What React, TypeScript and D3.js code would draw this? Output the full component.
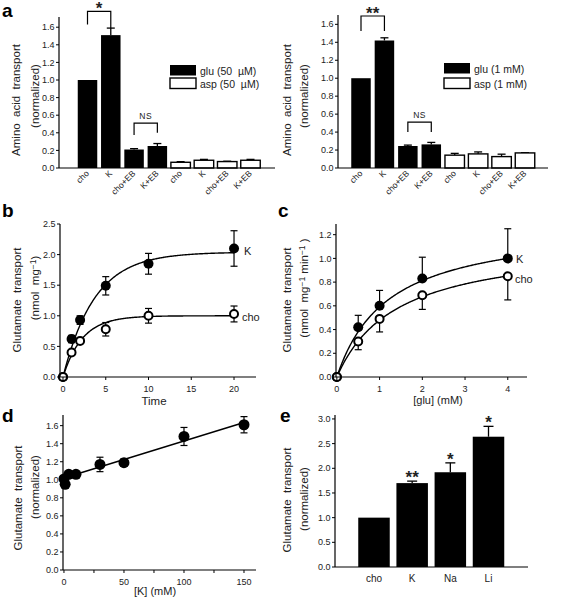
import React from "react";
import * as d3 from "d3";

const FONT = "'Liberation Sans', Arial, Helvetica, sans-serif";
const INK = "#000";
const TXT = "#222";

// ---------- Panel a ----------
const aCategories = ["cho", "K", "cho+EB", "K+EB", "cho", "K", "cho+EB", "K+EB"];
const aSubstrate = ["glu", "glu", "glu", "glu", "asp", "asp", "asp", "asp"];
const aLeftValues = [1.0, 1.51, 0.21, 0.25, 0.065, 0.088, 0.073, 0.088];
const aLeftErrors = [0, 0.08, 0.01, 0.028, 0.007, 0.01, 0.004, 0.01];
const aRightValues = [1.0, 1.42, 0.245, 0.263, 0.143, 0.157, 0.127, 0.168];
const aRightErrors = [0, 0.03, 0.01, 0.022, 0.02, 0.022, 0.027, 0.003];
const aLeftLegend = ["glu (50  µM)", "asp (50  µM)"];
const aRightLegend = ["glu (1 mM)", "asp (1 mM)"];
const aYTicks = [0, 0.2, 0.4, 0.6, 0.8, 1.0, 1.2, 1.4, 1.6];
const aLeftBrackets = [
  { from: 0, to: 1, top: 1.78, leftEnd: 1.63, rightEnd: 1.59, label: "*" },
  { from: 2, to: 3, top: 0.51, leftEnd: 0.375, rightEnd: 0.4, label: "NS" },
];
const aRightBrackets = [
  { from: 0, to: 1, top: 1.693, leftEnd: 1.526, rightEnd: 1.526, label: "**" },
  { from: 2, to: 3, top: 0.512, leftEnd: 0.4, rightEnd: 0.4, label: "NS" },
];

// ---------- Panel b ----------
const bTimes = [0, 1, 2, 5, 10, 20];
const bK = [0, 0.62, 0.93, 1.49, 1.85, 2.1];
const bKErr = [0.02, 0.06, 0.07, 0.15, 0.17, 0.29];
const bCho = [0, 0.4, 0.59, 0.78, 1.0, 1.03];
const bChoErr = [0.02, 0.03, 0.04, 0.11, 0.12, 0.13];
const bKFit = { plateau: 2.04, rate: 0.27 };
const bChoFit = { plateau: 1.0, rate: 0.44 };
const bXTicks = [0, 5, 10, 15, 20];
const bYTicks = [0, 0.5, 1.0, 1.5, 2.0, 2.5];

// ---------- Panel c ----------
const cConc = [0, 0.5, 1, 2, 4];
const cK = [0, 0.42, 0.6, 0.83, 1.0];
const cKErr = [0.01, 0.1, 0.13, 0.18, 0.25];
const cCho = [0, 0.3, 0.49, 0.69, 0.85];
const cChoErr = [0.01, 0.07, 0.11, 0.12, 0.2];
const cKFit = { vmax: 1.3, km: 1.2 };
const cChoFit = { vmax: 1.15, km: 1.4 };
const cXTicks = [0, 1, 2, 3, 4];
const cYTicks = [0, 0.2, 0.4, 0.6, 0.8, 1.0, 1.2];

// ---------- Panel d ----------
const dK = [0, 1, 4, 10, 30, 50, 100, 150];
const dVal = [1.01, 0.95, 1.06, 1.06, 1.17, 1.19, 1.48, 1.61];
const dErr = [0.03, 0.03, 0.03, 0.03, 0.08, 0.04, 0.1, 0.09];
const dFit = { intercept: 1.02, slope: 0.0041 };
const dXTicks = [0, 50, 100, 150];
const dXMinor = [25, 75, 125];
const dYTicks = [0, 0.2, 0.4, 0.6, 0.8, 1.0, 1.2, 1.4, 1.6];

// ---------- Panel e ----------
const eCats = ["cho", "K", "Na", "Li"];
const eVals = [1.0, 1.7, 1.92, 2.64];
const eErrs = [0, 0.04, 0.19, 0.21];
const eSig = ["", "**", "*", "*"];
const eYTicks = [0, 0.5, 1.0, 1.5, 2.0, 2.5, 3.0];

const f1 = (v: number) => v.toFixed(1);
const TITLE_FS = 11.5;

function YAxis({ scale, x, ticks, format = f1, fs = 9 }: any) {
  const [y0, y1] = scale.range();
  return (
    <g>
      <line x1={x} x2={x} y1={y0} y2={y1} stroke={INK} strokeWidth={1.2} />
      {ticks.map((t: number) => (
        <g key={t}>
          <line x1={x - 3} x2={x} y1={scale(t)} y2={scale(t)} stroke={INK} strokeWidth={1} />
          <text x={x - 4.5} y={scale(t)} dy="0.35em" textAnchor="end" fontSize={fs} fill={TXT}>
            {format(t)}
          </text>
        </g>
      ))}
    </g>
  );
}

function XAxis({ scale, y, x0, x1, ticks, minor = [], format = (v: number) => String(v), fs = 9 }: any) {
  return (
    <g>
      <line x1={x0} x2={x1} y1={y} y2={y} stroke={INK} strokeWidth={1.2} />
      {ticks.map((t: number) => (
        <g key={t}>
          <line x1={scale(t)} x2={scale(t)} y1={y} y2={y + 3} stroke={INK} strokeWidth={1} />
          <text x={scale(t)} y={y + 15} textAnchor="middle" fontSize={fs} fill={TXT}>
            {format(t)}
          </text>
        </g>
      ))}
      {minor.map((t: number) => (
        <line key={"m" + t} x1={scale(t)} x2={scale(t)} y1={y} y2={y + 3} stroke={INK} strokeWidth={1} />
      ))}
    </g>
  );
}

function VTitle({ x, y, children, fs = TITLE_FS }: any) {
  return (
    <text
      transform={`translate(${x},${y}) rotate(-90)`}
      textAnchor="middle"
      dy="0.35em"
      fontSize={fs}
      fill={TXT}
      xmlSpace="preserve"
      style={{ whiteSpace: "pre" }}
    >
      {children}
    </text>
  );
}

function PanelA({ values, errors, legend, brackets, axisX, axisEnd, c0, c1, yTop, yTopPx, legendX, legendY, titleX, starOff }: any) {
  const idx = d3.range(values.length).map(String);
  const x = d3.scalePoint().domain(idx).range([c0, c1]);
  const y = d3.scaleLinear().domain([0, yTop]).range([168, yTopPx]);
  const bw = 19.5;
  return (
    <g>
      {values.map((v: number, i: number) => {
        const cx = x(String(i))!;
        const glu = aSubstrate[i] === "glu";
        return (
          <g key={i}>
            {errors[i] > 0 && (
              <g stroke={INK} strokeWidth={1.3}>
                <line x1={cx} x2={cx} y1={y(v)} y2={y(v + errors[i])} />
                <line x1={cx - 4} x2={cx + 4} y1={y(v + errors[i])} y2={y(v + errors[i])} />
              </g>
            )}
            <rect
              x={cx - bw / 2}
              y={y(v)}
              width={bw}
              height={y(0) - y(v)}
              fill={glu ? INK : "#fff"}
              stroke={INK}
              strokeWidth={glu ? 0 : 1.4}
            />
            <text
              transform={`translate(${cx + 2},174) rotate(-45)`}
              textAnchor="end"
              fontSize={8.5}
              fill={TXT}
            >
              {aCategories[i]}
            </text>
          </g>
        );
      })}
      <YAxis scale={y} x={axisX} ticks={aYTicks} />
      <line x1={axisX} x2={axisEnd} y1={168} y2={168} stroke={INK} strokeWidth={1.2} />
      {brackets.map((b: any, k: number) => {
        const xa = x(String(b.from))!;
        const xb = x(String(b.to))!;
        const isNS = b.label === "NS";
        return (
          <g key={k}>
            <path
              d={`M${xa},${y(b.leftEnd)}V${y(b.top)}H${xb}V${y(b.rightEnd)}`}
              fill="none"
              stroke={INK}
              strokeWidth={1.2}
            />
            <text
              x={(xa + xb) / 2}
              y={isNS ? y(b.top) - 4 : y(b.top) + starOff}
              textAnchor="middle"
              fontSize={isNS ? 8.5 : 17}
              fontWeight={isNS ? 400 : 700}
              letterSpacing={isNS ? 0.5 : 0}
              fill={TXT}
            >
              {b.label}
            </text>
          </g>
        );
      })}
      <rect x={legendX} y={legendY[0]} width={26} height={10.5} fill={INK} />
      <rect x={legendX} y={legendY[1]} width={26} height={10.5} fill="#fff" stroke={INK} strokeWidth={1.4} />
      <text x={legendX + 30} y={legendY[0] + 9.5} fontSize={10.5} fill={TXT} xmlSpace="preserve" style={{ whiteSpace: "pre" }}>
        {legend[0]}
      </text>
      <text x={legendX + 30} y={legendY[1] + 9.5} fontSize={10.5} fill={TXT} xmlSpace="preserve" style={{ whiteSpace: "pre" }}>
        {legend[1]}
      </text>
      <VTitle x={titleX[0]} y={100}>Amino  acid  transport</VTitle>
      <VTitle x={titleX[1]} y={96}>(normalized)</VTitle>
    </g>
  );
}

function ErrBars({ xs, ys, errs, x, y, up = true, down = true, cap = 7 }: any) {
  return (
    <g stroke={INK} strokeWidth={1.2}>
      {xs.map((xv: number, i: number) => {
        const cx = x(xv);
        const hi = up ? ys[i] + errs[i] : ys[i];
        const lo = down ? ys[i] - errs[i] : ys[i];
        return (
          <g key={i}>
            <line x1={cx} x2={cx} y1={y(lo)} y2={y(hi)} />
            {up && <line x1={cx - cap / 2} x2={cx + cap / 2} y1={y(hi)} y2={y(hi)} />}
            {down && <line x1={cx - cap / 2} x2={cx + cap / 2} y1={y(lo)} y2={y(lo)} />}
          </g>
        );
      })}
    </g>
  );
}

function Points({ xs, ys, x, y, open, r }: any) {
  return (
    <g>
      {xs.map((xv: number, i: number) => (
        <circle
          key={i}
          cx={x(xv)}
          cy={y(ys[i])}
          r={r}
          fill={open ? "#fff" : INK}
          stroke={INK}
          strokeWidth={open ? 2 : 0}
        />
      ))}
    </g>
  );
}

function PanelB() {
  const x = d3.scaleLinear().domain([-0.35, 22.57]).range([60, 256]);
  const y = d3.scaleLinear().domain([0, 2.5]).range([377, 224]);
  const grid = d3.range(0, 20.01, 0.1);
  const line = d3.line<number>().x((t) => x(t));
  const kPath = line.y((t) => y(bKFit.plateau * (1 - Math.exp(-bKFit.rate * t))))(grid);
  const cPath = line.y((t) => y(bChoFit.plateau * (1 - Math.exp(-bChoFit.rate * t))))(grid);
  return (
    <g>
      <ErrBars xs={bTimes} ys={bK} errs={bKErr} x={x} y={y} />
      <ErrBars xs={bTimes} ys={bCho} errs={bChoErr} x={x} y={y} />
      <path d={kPath!} fill="none" stroke={INK} strokeWidth={1.4} />
      <path d={cPath!} fill="none" stroke={INK} strokeWidth={1.4} />
      <Points xs={bTimes} ys={bK} x={x} y={y} r={5} />
      <Points xs={bTimes} ys={bCho} x={x} y={y} r={4} open />
      <YAxis scale={y} x={60} ticks={bYTicks} />
      <XAxis scale={x} y={377} x0={60} x1={256} ticks={bXTicks} />
      <text x={244} y={254.5} fontSize={11} fill={TXT}>K</text>
      <text x={242} y={320.5} fontSize={11} fill={TXT}>cho</text>
      <text x={154} y={405} textAnchor="middle" fontSize={11.5} fill={TXT}>Time</text>
      <VTitle x={17} y={300}>Glutamate  transport</VTitle>
      <VTitle x={35} y={288}>
        (nmol  mg<tspan fontSize={8.5} dy={-3}>−1</tspan><tspan dy={3}>)</tspan>
      </VTitle>
    </g>
  );
}

function PanelC() {
  const x = d3.scaleLinear().domain([-0.02, 4.45]).range([336, 527]);
  const y = d3.scaleLinear().domain([0, 1.29]).range([377, 224]);
  const grid = d3.range(0, 4.001, 0.02);
  const line = d3.line<number>().x((t) => x(t));
  const kPath = line.y((c) => y((cKFit.vmax * c) / (cKFit.km + c)))(grid);
  const cPath = line.y((c) => y((cChoFit.vmax * c) / (cChoFit.km + c)))(grid);
  return (
    <g>
      <ErrBars xs={cConc.slice(1)} ys={cK.slice(1)} errs={cKErr.slice(1)} x={x} y={y} down={false} />
      <ErrBars xs={cConc.slice(1)} ys={cCho.slice(1)} errs={cChoErr.slice(1)} x={x} y={y} up={false} />
      <path d={kPath!} fill="none" stroke={INK} strokeWidth={1.4} />
      <path d={cPath!} fill="none" stroke={INK} strokeWidth={1.4} />
      <Points xs={cConc} ys={cK} x={x} y={y} r={5} />
      <Points xs={cConc} ys={cCho} x={x} y={y} r={4} open />
      <YAxis scale={y} x={336} ticks={cYTicks} />
      <XAxis scale={x} y={377} x0={336} x1={527} ticks={cXTicks} />
      <text x={516} y={263} fontSize={11} fill={TXT}>K</text>
      <text x={515} y={283} fontSize={11} fill={TXT}>cho</text>
      <text x={438} y={404} textAnchor="middle" fontSize={11} fill={TXT}>[glu] (mM)</text>
      <VTitle x={287} y={300}>Glutamate  transport</VTitle>
      <VTitle x={304} y={288}>
        (nmol  mg<tspan fontSize={8.5} dy={-3}>−1</tspan><tspan dy={3}> min</tspan>
        <tspan fontSize={8.5} dy={-3}>−1</tspan><tspan dy={3}> )</tspan>
      </VTitle>
    </g>
  );
}

function PanelD() {
  const x = d3.scaleLinear().domain([-0.8, 160]).range([63, 256]);
  const y = d3.scaleLinear().domain([0, 1.718]).range([570, 415]);
  const fitPath = d3
    .line<number>()
    .x((k) => x(k))
    .y((k) => y(dFit.intercept + dFit.slope * k))([0, 150]);
  return (
    <g>
      <ErrBars xs={dK} ys={dVal} errs={dErr} x={x} y={y} cap={7} />
      <path d={fitPath!} fill="none" stroke={INK} strokeWidth={1.4} />
      <Points xs={dK} ys={dVal} x={x} y={y} r={5.5} />
      <YAxis scale={y} x={63} ticks={dYTicks} />
      <XAxis scale={x} y={570} x0={63} x1={256} ticks={dXTicks} minor={dXMinor} />
      <text x={155} y={595} textAnchor="middle" fontSize={11} fill={TXT}>[K] (mM)</text>
      <VTitle x={18} y={498}>Glutamate  transport</VTitle>
      <VTitle x={35} y={487}>(normalized)</VTitle>
    </g>
  );
}

function PanelE() {
  const x = d3.scalePoint().domain(eCats).range([374, 488.5]);
  const y = d3.scaleLinear().domain([0, 3.08]).range([567, 415]);
  const bw = 31.5;
  return (
    <g>
      {eCats.map((c, i) => {
        const cx = x(c)!;
        const v = eVals[i];
        const top = y(v + eErrs[i]);
        return (
          <g key={c}>
            {eErrs[i] > 0 && (
              <g stroke={INK} strokeWidth={1.3}>
                <line x1={cx} x2={cx} y1={y(v)} y2={top} />
                <line x1={cx - 5} x2={cx + 5} y1={top} y2={top} />
              </g>
            )}
            <rect x={cx - bw / 2} y={y(v)} width={bw} height={y(0) - y(v)} fill={INK} />
            {eSig[i] && (
              <text x={cx} y={top + 2} textAnchor="middle" fontSize={17} fontWeight={700} fill={TXT}>
                {eSig[i]}
              </text>
            )}
            <text x={cx} y={582} textAnchor="middle" fontSize={10} fill={TXT}>
              {c}
            </text>
          </g>
        );
      })}
      <YAxis scale={y} x={335} ticks={eYTicks} />
      <line x1={335} x2={528} y1={567} y2={567} stroke={INK} strokeWidth={1.2} />
      <VTitle x={287} y={500}>Glutamate  transport</VTitle>
      <VTitle x={304} y={499}>(normalized)</VTitle>
    </g>
  );
}

export default function App() {
  return (
    <svg
      width={584}
      height={601}
      style={{ position: "absolute", left: 0, top: 0, background: "#fff" }}
      fontFamily={FONT}
    >
      <rect width={584} height={601} fill="#fff" />
      <PanelA
        values={aLeftValues}
        errors={aLeftErrors}
        legend={aLeftLegend}
        brackets={aLeftBrackets}
        axisX={59}
        axisEnd={275}
        c0={87.5}
        c1={250.5}
        yTop={1.716}
        yTopPx={17}
        legendX={170}
        legendY={[65, 78]}
        titleX={[16, 35]}
        starOff={3}
      />
      <PanelA
        values={aRightValues}
        errors={aRightErrors}
        legend={aRightLegend}
        brackets={aRightBrackets}
        axisX={338}
        axisEnd={548}
        c0={361}
        c1={525}
        yTop={1.704}
        yTopPx={15}
        legendX={444}
        legendY={[63, 78]}
        titleX={[287, 304]}
        starOff={3}
      />
      <PanelB />
      <PanelC />
      <PanelD />
      <PanelE />
      <g fontWeight={700} fontSize={19} fill={INK}>
        <text x={2} y={17}>a</text>
        <text x={2} y={217}>b</text>
        <text x={278} y={217}>c</text>
        <text x={2} y={422}>d</text>
        <text x={280} y={422}>e</text>
      </g>
    </svg>
  );
}
